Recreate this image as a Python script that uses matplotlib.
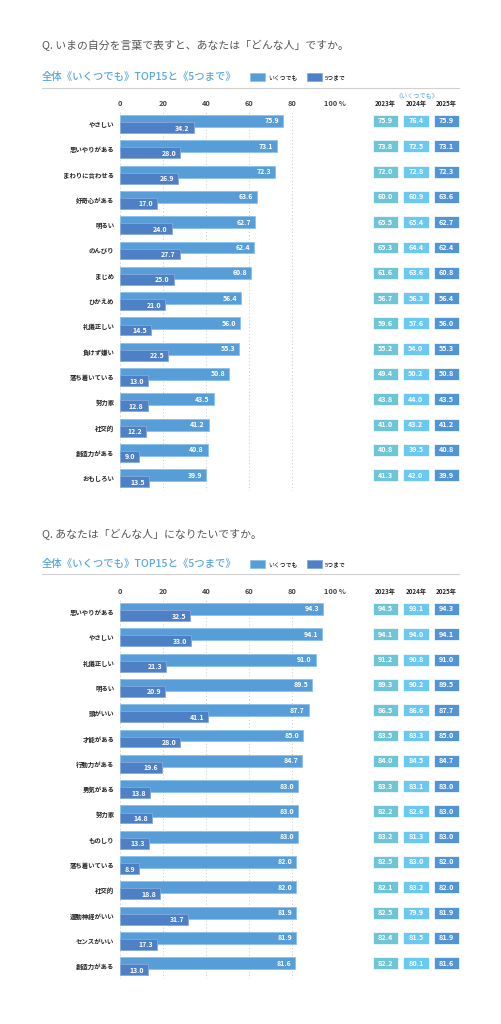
import matplotlib
matplotlib.use('Agg')
import matplotlib.pyplot as plt
from matplotlib.lines import Line2D
from matplotlib.patches import Patch

plt.rcParams['font.family'] = ['Noto Sans CJK JP', 'DejaVu Sans']

# データ（上：いまの自分）
top_labels = ['やさしい', '思いやりがある', 'まわりに合わせる', '好奇心がある', '明るい',
              'のんびり', 'まじめ', 'ひかえめ', '礼儀正しい', '負けず嫌い',
              '落ち着いている', '努力家', '社交的', '創造力がある', 'おもしろい']
top_any = [75.9, 73.1, 72.3, 63.6, 62.7, 62.4, 60.8, 56.4, 56.0, 55.3, 50.8, 43.5, 41.2, 40.8, 39.9]
top_five = [34.2, 28.0, 26.9, 17.0, 24.0, 27.7, 25.0, 21.0, 14.5, 22.5, 13.0, 12.8, 12.2, 9.0, 13.5]
top_2023 = [75.9, 73.8, 72.0, 60.0, 65.5, 65.3, 61.6, 56.7, 59.6, 55.2, 49.4, 43.8, 41.0, 40.8, 41.3]
top_2024 = [76.4, 72.5, 72.8, 60.9, 65.4, 64.4, 63.6, 56.3, 57.6, 54.0, 50.2, 44.0, 43.2, 39.5, 42.0]
top_2025 = [75.9, 73.1, 72.3, 63.6, 62.7, 62.4, 60.8, 56.4, 56.0, 55.3, 50.8, 43.5, 41.2, 40.8, 39.9]

# データ（下：なりたい人）
bottom_labels = ['思いやりがある', 'やさしい', '礼儀正しい', '明るい', '頭がいい',
                 '才能がある', '行動力がある', '勇気がある', '努力家', 'ものしり',
                 '落ち着いている', '社交的', '運動神経がいい', 'センスがいい', '創造力がある']
bottom_any = [94.3, 94.1, 91.0, 89.5, 87.7, 85.0, 84.7, 83.0, 83.0, 83.0, 82.0, 82.0, 81.9, 81.9, 81.6]
bottom_five = [32.5, 33.0, 21.3, 20.9, 41.1, 28.0, 19.6, 13.8, 14.8, 13.3, 8.9, 18.8, 31.7, 17.3, 13.0]
bottom_2023 = [94.5, 94.1, 91.2, 89.3, 86.5, 83.5, 84.0, 83.3, 82.2, 83.2, 82.5, 82.1, 82.5, 82.4, 82.2]
bottom_2024 = [93.1, 94.0, 90.8, 90.2, 86.6, 83.3, 84.5, 83.1, 82.6, 81.3, 83.0, 83.2, 79.9, 81.5, 80.1]
bottom_2025 = [94.3, 94.1, 91.0, 89.5, 87.7, 85.0, 84.7, 83.0, 83.0, 83.0, 82.0, 82.0, 81.9, 81.9, 81.6]

years = ['2023年', '2024年', '2025年']
x_ticks = [0, 20, 40, 60, 80, 100]
x_ticklabels = ['0', '20', '40', '60', '80', '100 %']

W, H = 501, 1024
C_ANY = '#579ed8'
C_FIVE = '#4d80c4'
C_YEARS = ['#6fc5d8', '#6bc8f0', '#5195d6']
ROW = 25.3

fig = plt.figure(figsize=(W / 100, H / 100), dpi=100)


def px(x0, y0, w, h):
    return [x0 / W, 1 - (y0 + h) / H, w / W, h / H]


def draw_panel(top, title, labels, v_any, v_five, v_years, header):
    title_y, sub_y, line_y, rows_top = top
    fig.text(42 / W, 1 - title_y / H, title, fontsize=7.8, color='#555555',
             va='center', ha='left')
    fig.text(42 / W, 1 - sub_y / H, '全体《いくつでも》TOP15と《5つまで》', fontsize=7.5,
             color='#5aa7dc', va='center', ha='left', fontweight='medium')
    fig.add_artist(Line2D([42 / W, 459 / W], [1 - line_y / H] * 2,
                          transform=fig.transFigure, color='#d0d0d0', lw=0.8))

    n = len(labels)
    rows = list(range(n))
    ax = fig.add_axes(px(120, rows_top, 215, ROW * n))
    ax.barh([r - 0.12 for r in rows], v_any, height=0.47, color=C_ANY,
            edgecolor='#8cc2ec', linewidth=0.6, zorder=2, label='いくつでも')
    ax.barh([r + 0.14 for r in rows], v_five, height=0.43, color=C_FIVE,
            edgecolor='#86a9dc', linewidth=0.6, zorder=3, label='5つまで')
    for r, a, f in zip(rows, v_any, v_five):
        ax.text(a - 1.8, r - 0.12, f'{a:.1f}', color='white', fontsize=5,
                fontweight='bold', ha='right', va='center', zorder=4)
        ax.text(f - 1.8, r + 0.16, f'{f:.1f}', color='white', fontsize=5,
                fontweight='bold', ha='right', va='center', zorder=4)
    ax.set_xlim(0, 100)
    ax.set_ylim(n - 0.5, -0.5)
    ax.set_xticks(x_ticks)
    ax.set_xticklabels(x_ticklabels, fontsize=5.3, color='#444444', fontweight='bold')
    ax.xaxis.tick_top()
    ax.tick_params(axis='x', length=0, pad=3)
    ax.set_yticks(rows)
    ax.set_yticklabels(labels, fontsize=4.6, fontweight='bold', color='#222222')
    ax.tick_params(axis='y', length=0, pad=4)
    ax.grid(axis='x', linestyle=(0, (1, 2.5)), color='#c4c4c4', linewidth=0.7, zorder=0)
    for s in ax.spines.values():
        s.set_visible(False)
    ax.set_facecolor('none')

    handles = [Patch(facecolor=C_ANY, edgecolor='#8cc2ec', linewidth=0.6),
               Patch(facecolor=C_FIVE, edgecolor='#86a9dc', linewidth=0.6)]
    fig.legend(handles, ['いくつでも', '5つまで'], loc='center left',
               bbox_to_anchor=(250 / W, 1 - sub_y / H), ncol=2, frameon=False,
               fontsize=4.2, handlelength=2.6, handleheight=1.6,
               handletextpad=0.5, columnspacing=1.6, borderpad=0, borderaxespad=0)

    # 年別ボックス
    ay = fig.add_axes(px(370.25, rows_top, 91.5, ROW * n))
    for i, vals in enumerate(v_years):
        ay.barh([r - 0.12 for r in rows], [0.82] * n, left=i - 0.41, height=0.47,
                color=C_YEARS[i], edgecolor='white', linewidth=0.5)
        for r, v in zip(rows, vals):
            ay.text(i, r - 0.12, f'{v:.1f}', color='white', fontsize=5.2,
                    fontweight='bold', ha='center', va='center')
    ay.set_xlim(-0.5, 2.5)
    ay.set_ylim(n - 0.5, -0.5)
    ay.set_xticks(range(3))
    ay.set_xticklabels(years, fontsize=4.4, fontweight='bold', color='#222222')
    ay.xaxis.tick_top()
    ay.tick_params(axis='x', length=0, pad=3)
    ay.set_yticks([])
    for s in ay.spines.values():
        s.set_visible(False)
    ay.set_facecolor('none')
    if header:
        ay.text(1.05, -1.15, '《いくつでも》', fontsize=4.4, color='#5aa7dc',
                ha='center', va='center')


draw_panel((45, 77, 87.5, 111.35), 'Q. いまの自分を言葉で表すと、あなたは「どんな人」ですか。',
           top_labels, top_any, top_five, [top_2023, top_2024, top_2025], True)
draw_panel((535, 564, 574, 599.35), 'Q. あなたは「どんな人」になりたいですか。',
           bottom_labels, bottom_any, bottom_five, [bottom_2023, bottom_2024, bottom_2025], False)

fig.savefig('out.png', dpi=100, facecolor='white')
